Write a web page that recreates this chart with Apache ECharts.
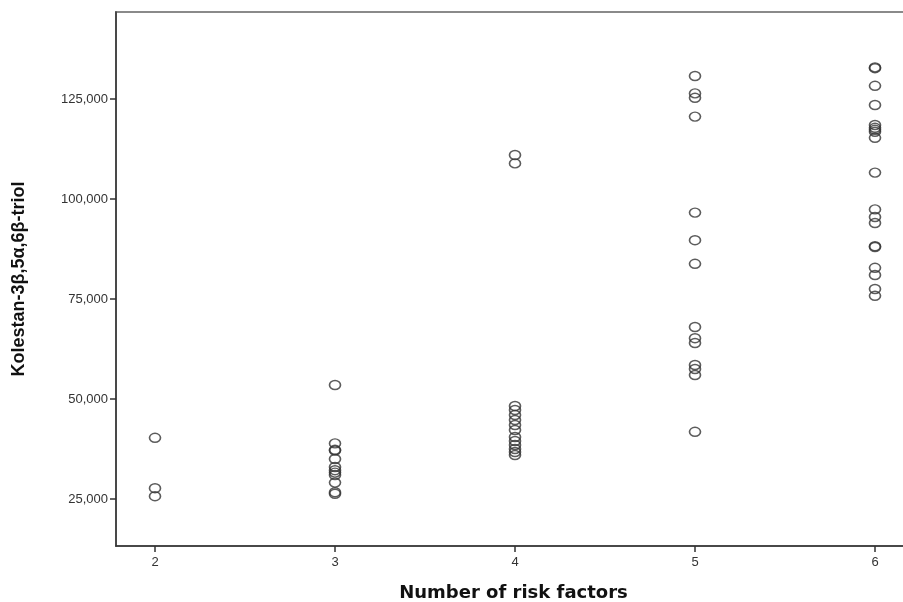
<!DOCTYPE html>
<html>
<head>
<meta charset="utf-8">
<script src="https://cdn.jsdelivr.net/npm/echarts@6/dist/echarts.min.js"></script>
<style>html,body{margin:0;padding:0;background:#fff}#c{width:903px;height:602px}</style>
</head>
<body>
<div id="c"></div>
<script>
// Number of risk factors (x) and Kolestan-3β,5α,6β-triol values (y)
const riskFactors = [2, 3, 4, 5, 6];
const group2 = [40300, 27700, 25700];
const group3 = [53500, 38900, 37300, 37100, 35000, 33000, 32200, 31600, 31000, 29100, 26700, 26300];
const group4 = [111000, 108900, 48250, 47250, 46000, 44750, 43500, 42250, 40500, 39500, 38500, 37500, 36750, 36000];
const group5 = [130750, 126400, 125300, 120600, 96600, 89700, 83800, 68000, 65200, 64000, 58500, 57500, 56000, 41800];
const group6 = [132900, 132700, 128300, 123500, 118500, 117800, 117300, 116800, 115300, 106600, 97400, 95500, 94000, 88200, 88000, 82800, 81000, 77500, 75800];
const yTicks = [25000, 50000, 75000, 100000, 125000];
const xTicks = [2, 3, 4, 5, 6];

const groups = [group2, group3, group4, group5, group6];
const points = [];
groups.forEach((g, i) => g.forEach(v => points.push([riskFactors[i], v])));

const chart = echarts.init(document.getElementById('c'), null, {renderer: 'canvas'});
chart.setOption({
  animation: false,
  backgroundColor: '#fff',
  grid: {left: 116, top: 12, width: 795, height: 534, outerBoundsMode: 'none', containLabel: false,
    show: true, borderColor: '#8a8a8a', borderWidth: 2, backgroundColor: '#fff'},
  xAxis: {
    type: 'value', min: 1.7833, max: 6.2,
    name: 'Number of risk factors', nameLocation: 'middle', nameGap: 38,
    nameTextStyle: {fontFamily: 'DejaVu Sans', fontWeight: 'bold', fontSize: 18, color: '#111'},
    axisLine: {show: true, onZero: false, lineStyle: {color: '#333', width: 1.5}},
    axisTick: {show: true, length: 6, customValues: xTicks, lineStyle: {color: '#333', width: 1.5}},
    axisLabel: {customValues: xTicks, margin: 10, fontFamily: 'Liberation Sans', fontSize: 13, color: '#333'},
    splitLine: {show: false}
  },
  yAxis: {
    type: 'value', min: 13250, max: 146750,
    name: 'Kolestan-3β,5α,6β-triol', nameLocation: 'middle', nameGap: 88, nameRotate: 90,
    nameTextStyle: {fontFamily: 'Liberation Sans Narrow, Liberation Sans', fontWeight: 'bold', fontSize: 18, color: '#111'},
    axisLine: {show: true, onZero: false, lineStyle: {color: '#333', width: 1.5}},
    axisTick: {show: true, length: 6, customValues: yTicks, lineStyle: {color: '#333', width: 1.5}},
    axisLabel: {customValues: yTicks, margin: 8, fontFamily: 'Liberation Sans', fontSize: 13, color: '#333',
      formatter: v => v.toLocaleString('en-US')},
    splitLine: {show: false}
  },
  series: [{
    type: 'scatter',
    data: points,
    symbol: 'circle',
    symbolSize: [11, 9],
    itemStyle: {color: 'rgba(0,0,0,0)', borderColor: '#333', borderWidth: 1.5}
  }]
});
</script>
</body>
</html>
